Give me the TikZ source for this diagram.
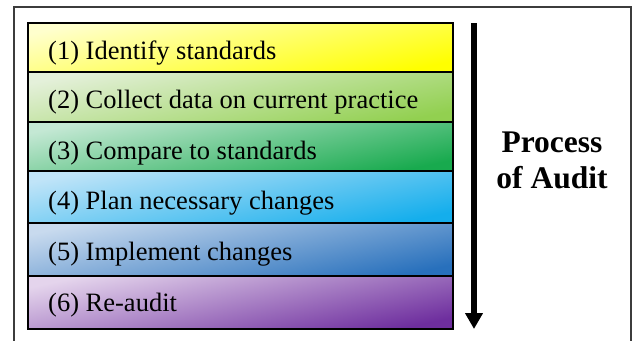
\documentclass[tikz,border=0pt]{standalone}
\usepackage{fontspec}
\setmainfont{Liberation Serif}
\newfontfamily\stepfont{Liberation Serif}
\usetikzlibrary{arrows.meta}

% step colours: light tone (top left) and full tone (bottom right)
\definecolor{yA}{RGB}{255,255,205}\definecolor{yB}{RGB}{255,255,0}
\definecolor{gA}{RGB}{228,240,218}\definecolor{gB}{RGB}{146,208,80}
\definecolor{tA}{RGB}{196,232,212}\definecolor{tB}{RGB}{24,170,78}
\definecolor{cA}{RGB}{192,228,248}\definecolor{cB}{RGB}{20,174,236}
\definecolor{bA}{RGB}{200,218,238}\definecolor{bB}{RGB}{40,112,188}
\definecolor{pA}{RGB}{228,212,236}\definecolor{pB}{RGB}{110,46,158}
\definecolor{framegray}{RGB}{60,60,60}

\tikzset{
  stepbox/.style n args={2}{draw=black, line width=1.4bp,
    shading=axis, top color=#1, bottom color=#2, shading angle=12},
  steptext/.style={anchor=base west, inner sep=0pt,
    font=\stepfont\fontsize{26.5bp}{30bp}\selectfont},
  titletext/.style={anchor=base, inner sep=0pt,
    font=\stepfont\fontsize{31.5bp}{36bp}\selectfont\bfseries},
  flowarrow/.style={line width=5.5bp,
    -{Triangle[width=17bp,length=16bp]}}
}

\begin{document}
\begin{tikzpicture}[x=1bp,y=-1bp]
  \useasboundingbox (0,0) rectangle (632,340);
  \begin{scope}
    \clip (0,0) rectangle (632,340);
    % outer frame (runs past the lower edge)
    \draw[framegray, line width=1.8bp] (14,7) rectangle (631,350);
  \end{scope}

  % the six steps
  \path[stepbox={yA}{yB}] (28,23)  rectangle (453,72);
  \path[stepbox={gA}{gB}] (28,72)  rectangle (453,122);
  \path[stepbox={tA}{tB}] (28,122) rectangle (453,171);
  \path[stepbox={cA}{cB}] (28,171) rectangle (453,223);
  \path[stepbox={bA}{bB}] (28,223) rectangle (453,276);
  \path[stepbox={pA}{pB}] (28,276) rectangle (453,329);

  \node[steptext] (s1) at (48,59)  {(1) Identify standards};
  \node[steptext] (s2) at (48,108) {(2) Collect data on current practice};
  \node[steptext] (s3) at (48,159) {(3) Compare to standards};
  \node[steptext] (s4) at (48,209) {(4) Plan necessary changes};
  \node[steptext] (s5) at (48,260) {(5) Implement changes};
  \node[steptext] (s6) at (48,311) {(6) Re-audit};

  % downward process arrow
  \coordinate (atop) at (474,23);
  \coordinate (abot) at (474,329);
  \draw[flowarrow] (atop) -- (abot);

  \node[titletext] (t1) at (552,152) {Process};
  \node[titletext] (t2) at (552,188) {of Audit};
\end{tikzpicture}
\end{document}
